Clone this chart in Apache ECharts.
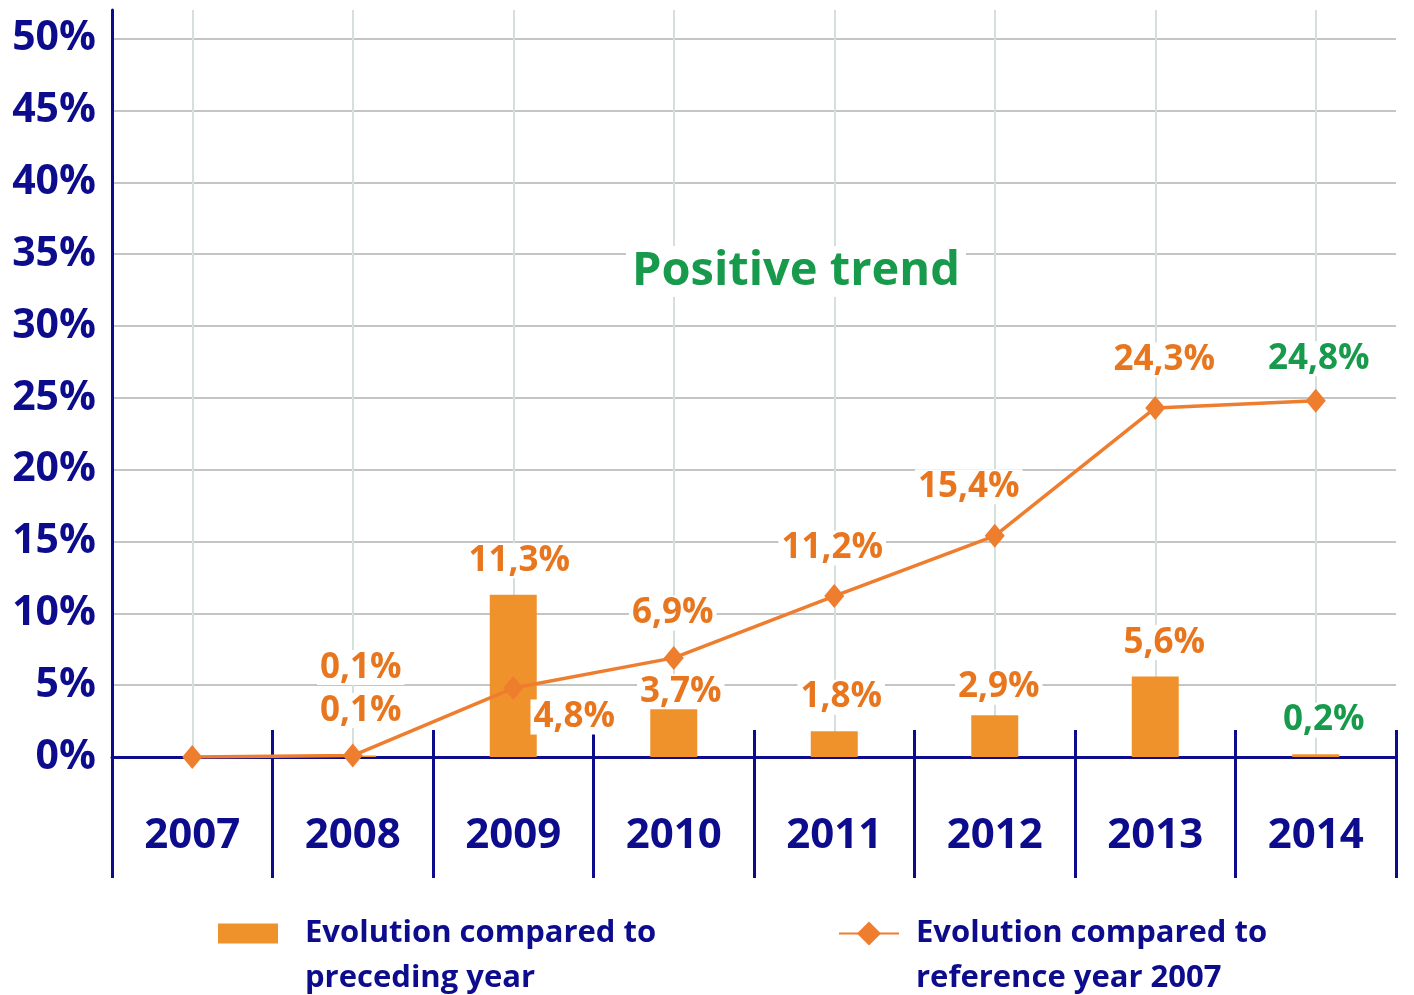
<!DOCTYPE html>
<html>
<head>
<meta charset="utf-8">
<title>Evolution</title>
<script src="https://cdn.jsdelivr.net/npm/echarts@6/dist/echarts.min.js"></script>
<style>
  html, body { margin: 0; padding: 0; background: #fff; }
  #chart { width: 1414px; height: 995px; }
</style>
</head>
<body>
<div id="chart"></div>
<script>
// values
const years = ["2007", "2008", "2009", "2010", "2011", "2012", "2013", "2014"];
const precedingYear = [null, 0.1, 11.3, 3.7, 1.8, 2.9, 5.6, 0.2];
const referenceYear = [0, 0.1, 4.8, 6.9, 11.2, 15.4, 24.3, 24.8];
const yTicks = [0, 5, 10, 15, 20, 25, 30, 35, 40, 45, 50];

const NAVY = "#0c0c8c";
const ORANGE = "#e8761f";
const GREEN = "#179a4b";
const FONT = "'Open Sans', sans-serif";

// label placement (offset of the label centre from the mark)
const barLabelOffset = [null, [8, -88], [6, -34], [7, -12], [7, -34], [4, -28], [9, -34], [8, -34]];
const lineLabelOffset = [null, [8, -45], [61, 29], [-1, -45], [-2, -48], [-26, -49], [9, -48], [3, -42]];
const labelColor = [ORANGE, ORANGE, ORANGE, ORANGE, ORANGE, ORANGE, ORANGE, GREEN];

const fmt = v => v.toFixed(1).replace(".", ",") + "%";

const baseLabel = {
  fontFamily: FONT,
  fontWeight: "bold",
  fontSize: 35,
  backgroundColor: "#fff",
  padding: [0, 3],
  align: "center",
  verticalAlign: "middle"
};

const barData = precedingYear.map((v, i) => ({
  value: v,
  label: barLabelOffset[i]
    ? Object.assign({}, baseLabel, {
        show: true,
        position: ["50%", 0],
        offset: barLabelOffset[i],
        color: labelColor[i],
        formatter: p => fmt(p.value)
      })
    : { show: false }
}));

const lineData = referenceYear.map((v, i) => ({
  value: v,
  label: lineLabelOffset[i]
    ? Object.assign({}, baseLabel, {
        show: true,
        position: ["50%", "50%"],
        offset: lineLabelOffset[i],
        color: labelColor[i],
        formatter: p => fmt(p.value)
      })
    : { show: false }
}));

// blank first line so the icon sits beside the first line of text
const legendText = {
  color: NAVY,
  fontFamily: FONT,
  fontWeight: "bold",
  fontSize: 31,
  lineHeight: 45
};

const chart = echarts.init(document.getElementById("chart"), null, { renderer: "canvas" });

chart.setOption({
  animation: false,
  backgroundColor: "#fff",
  title: {
    text: "Positive trend",
    left: 626,
    top: 246,
    padding: [2, 6],
    backgroundColor: "#fff",
    textStyle: { color: GREEN, fontFamily: FONT, fontWeight: "bold", fontSize: 47 }
  },
  grid: { left: 112, right: 18, top: 10, bottom: 238, containLabel: false },
  legend: [
    {
      data: ["Evolution compared to\npreceding year"],
      formatter: n => " \n" + n,
      left: 218,
      top: 866,
      padding: 0,
      icon: "rect",
      itemWidth: 60,
      itemHeight: 20,
      selectedMode: false,
      textStyle: Object.assign({}, legendText, { padding: [0, 0, 0, 22] })
    },
    {
      data: ["Evolution compared to\nreference year 2007"],
      formatter: n => " \n" + n,
      left: 838,
      top: 866,
      padding: 0,
      itemWidth: 60,
      itemHeight: 30,
      selectedMode: false,
      textStyle: Object.assign({}, legendText, { padding: [0, 0, 0, 12] })
    }
  ],
  xAxis: [
    {
      type: "category",
      data: years,
      boundaryGap: true,
      axisLine: { show: true, lineStyle: { color: NAVY, width: 3 } },
      axisTick: { show: true, interval: 0, length: 121, lineStyle: { color: NAVY, width: 3 } },
      axisLabel: { color: NAVY, fontFamily: FONT, fontWeight: "bold", fontSize: 42, margin: 58, interval: 0 },
      splitLine: { show: false }
    },
    {
      type: "category",
      data: years,
      position: "bottom",
      boundaryGap: true,
      axisLine: { show: false },
      axisTick: { show: true, inside: true, interval: 0, length: 27, lineStyle: { color: NAVY, width: 3 } },
      axisLabel: { show: false },
      splitLine: { show: false }
    }
  ],
  yAxis: {
    type: "value",
    min: yTicks[0],
    max: 52,
    interval: 5,
    axisLine: { show: true, lineStyle: { color: NAVY, width: 3 } },
    axisTick: { show: false },
    axisLabel: {
      color: NAVY,
      fontFamily: FONT,
      fontWeight: "bold",
      fontSize: 41,
      margin: 16,
      showMaxLabel: false,
      formatter: v => (yTicks.indexOf(v) >= 0 ? v + "%" : "")
    },
    splitLine: { show: true, showMaxLine: false, lineStyle: { color: "#c4c6c4", width: 2 } }
  },
  series: [
    {
      name: "Evolution compared to\npreceding year",
      type: "bar",
      barWidth: 47,
      itemStyle: { color: "#f0922c" },
      data: barData,
      z: 2,
      markLine: {
        silent: true,
        z: 1,
        symbol: "none",
        label: { show: false },
        lineStyle: { color: "#d3e0dc", type: "solid", width: 2 },
        data: years.map(y => ({ xAxis: y }))
      }
    },
    {
      name: "Evolution compared to\nreference year 2007",
      type: "line",
      symbol: "diamond",
      symbolSize: [20, 24],
      itemStyle: { color: "#ee7d2e" },
      lineStyle: { color: "#ee7d2e", width: 3.5 },
      data: lineData,
      z: 4
    }
  ]
});
</script>
</body>
</html>
